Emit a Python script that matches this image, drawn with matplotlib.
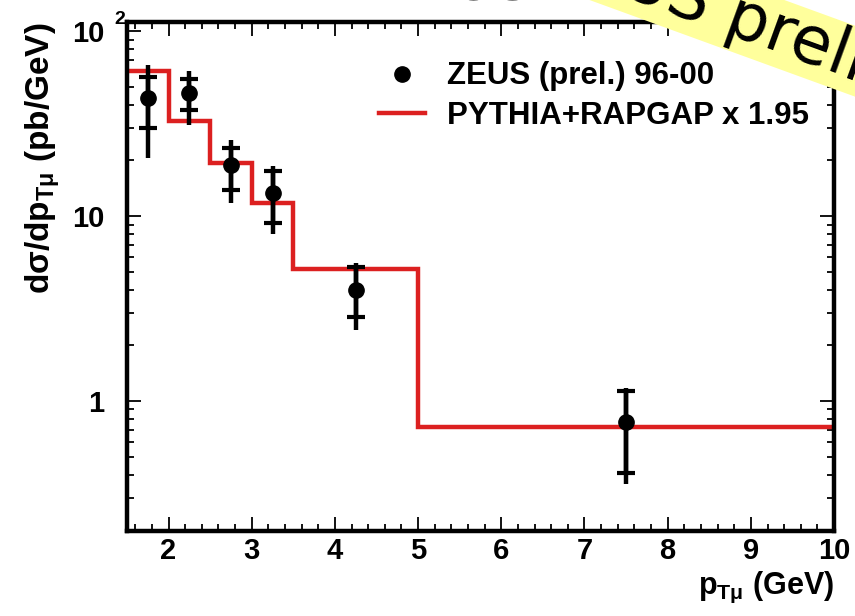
import matplotlib
matplotlib.use("Agg")
import matplotlib.pyplot as plt
from matplotlib.lines import Line2D
from matplotlib.ticker import MultipleLocator, LogLocator, NullFormatter, FixedLocator

plt.rcParams["font.family"] = ["Liberation Sans", "DejaVu Sans"]
plt.rcParams["font.weight"] = "bold"
plt.rcParams["mathtext.default"] = "regular"

# ZEUS (prel.) 96-00 data points
pt_x = [1.75, 2.25, 2.75, 3.25, 4.25, 7.5]
xsec = [43.4, 46.2, 18.9, 13.4, 4.0, 0.773]
stat_hi = [56.6, 55.0, 23.5, 17.6, 5.3, 1.13]
stat_lo = [29.9, 37.4, 13.9, 9.2, 2.85, 0.408]
tot_hi = [65.5, 61.0, 25.7, 18.6, 5.6, 1.18]
tot_lo = [20.6, 31.0, 11.8, 8.0, 2.42, 0.356]

# PYTHIA+RAPGAP x 1.95 histogram
bin_edges = [1.5, 2.0, 2.5, 3.0, 3.5, 5.0, 10.0]
mc_vals = [61.0, 32.7, 19.3, 11.8, 5.19, 0.726]

red = "#dc2020"

fig = plt.figure(figsize=(8.55, 6.16), dpi=100)
ax = fig.add_axes([0.1485, 0.138, 0.827, 0.826])

ax.stairs(mc_vals, bin_edges, baseline=None, color=red, lw=3.2, zorder=2)

# total errors (no caps), stat errors with ticks
ax.errorbar(pt_x, xsec,
            yerr=[[v - l for v, l in zip(xsec, tot_lo)], [h - v for v, h in zip(xsec, tot_hi)]],
            fmt="none", ecolor="k", elinewidth=3.2, capsize=0, zorder=3)
ax.errorbar(pt_x, xsec,
            yerr=[[v - l for v, l in zip(xsec, stat_lo)], [h - v for v, h in zip(xsec, stat_hi)]],
            fmt="o", color="k", ms=11, ecolor="k", elinewidth=3.2, capsize=6.5, capthick=3, zorder=4)

ax.set_yscale("log")
ax.set_xlim(1.5, 10)
ax.set_ylim(0.198, 112)

ax.xaxis.set_major_locator(MultipleLocator(1))
ax.xaxis.set_minor_locator(MultipleLocator(0.2))
ax.yaxis.set_major_locator(FixedLocator([1, 10, 100]))
ax.yaxis.set_minor_locator(LogLocator(base=10, subs=range(2, 10)))
ax.yaxis.set_minor_formatter(NullFormatter())
ax.set_yticklabels(["1", "10", "10"])
ax.set_xticks(range(2, 11))
# exponent of the 10^2 label sits next to the axis, ROOT style
ax.text(-0.01, 1.006, "2", transform=ax.transAxes, fontsize=14,
        ha="center", va="center", clip_on=False)

ax.tick_params(which="both", direction="in", top=True, right=True,
               labelsize=21, width=1.3)
ax.tick_params(axis="x", pad=4)
ax.tick_params(axis="y", pad=16)
ax.tick_params(which="major", length=10)
ax.tick_params(which="minor", length=5)
for sp in ax.spines.values():
    sp.set_linewidth(3.2)

ax.set_xlabel("p$_{Tμ}$ (GeV)", fontsize=22, fontweight="bold", loc="right", labelpad=4)
ax.set_ylabel("dσ/dp$_{Tμ}$ (pb/GeV)", fontsize=24, fontweight="bold", loc="top")
ax.yaxis.set_label_coords(-0.092, 1.0)

handles = [Line2D([], [], marker="o", color="k", ls="none", ms=11),
           Line2D([], [], color=red, lw=3.2)]
ax.legend(handles, ["ZEUS (prel.) 96-00", "PYTHIA+RAPGAP x 1.95"],
          loc="upper left", bbox_to_anchor=(0.316, 0.978), frameon=False,
          fontsize=22.5, handlelength=1.5, handletextpad=0.7, labelspacing=0.3,
          borderpad=0.4)

# title cut off at the top of the page
fig.text(0.535, 0.9985, "ZEUS", fontsize=40, fontweight="bold", ha="center", va="baseline")

# yellow "preliminary" sticker
fig.text(0.627, 1.058, "ZEUS preliminary", fontsize=47.5, fontweight="normal",
         family="DejaVu Sans", rotation=-20, rotation_mode="anchor",
         ha="left", va="baseline", color="k",
         bbox=dict(facecolor="#ffff9c", edgecolor="none", pad=1), zorder=10)

fig.savefig("out.png", dpi=100)
